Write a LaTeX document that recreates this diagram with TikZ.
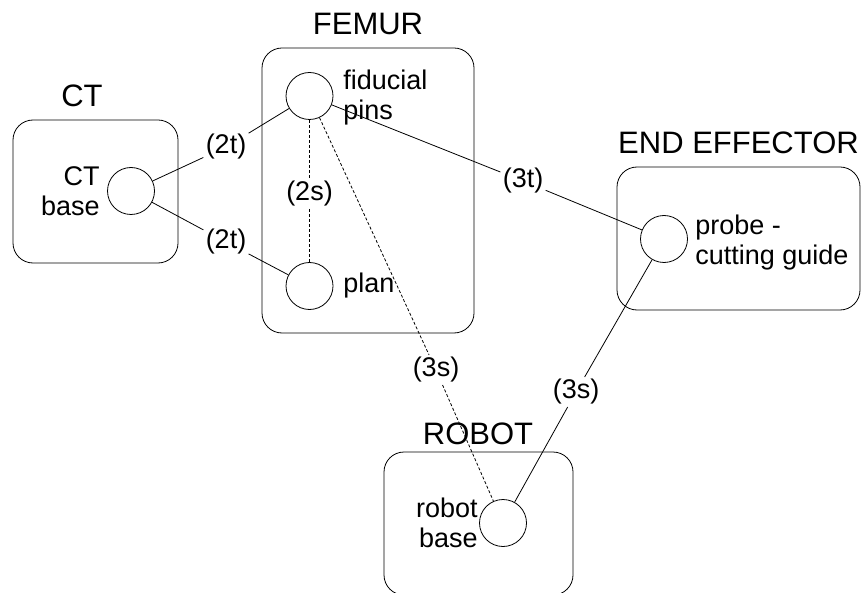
\documentclass[tikz,border=0pt]{standalone}
\usepackage{fontspec}
\setmainfont{Liberation Sans}
\begin{document}
\begin{tikzpicture}[x=1pt,y=-1pt, line width=0.8pt,
  grp/.style={draw, rounded corners=20pt, inner sep=0pt},
  port/.style={draw, circle, minimum size=47pt, inner sep=0pt},
  ttl/.style={font=\fontsize{31}{33}\selectfont, inner sep=0pt},
  txt/.style={font=\fontsize{27}{30}\selectfont, inner sep=0pt},
  lbl/.style={font=\fontsize{27}{30}\selectfont, inner sep=2pt},
  dsh/.style={dash pattern=on 3pt off 2pt}]
\useasboundingbox (0,0) rectangle (866,593);
% group boxes
\node[grp, minimum width=165pt, minimum height=143pt] (ctbox) at (95.5,191.5) {};
\node[grp, minimum width=212pt, minimum height=285pt] (febox) at (368,190.5) {};
\node[grp, minimum width=243pt, minimum height=143pt] (eebox) at (738.5,238.5) {};
\node[grp, minimum width=189pt, minimum height=143pt] (robox) at (478.5,523.5) {};
% titles
\node[ttl] (tct) at (82,96) {CT};
\node[ttl] (tfe) at (368,24) {FEMUR};
\node[ttl] (tee) at (738.5,143) {END EFFECTOR};
\node[ttl] (tro) at (478,434) {ROBOT};
% ports
\node[port] (ctb) at (131,191) {};
\node[port] (fid) at (309.5,96) {};
\node[port] (plan) at (309.5,286) {};
\node[port] (probe) at (664,239) {};
\node[port] (rb) at (503,523) {};
% port texts
\node[txt, align=right, anchor=east] (xctb) at (100,191) {CT\\base};
\node[txt, align=left, anchor=west] (xfid) at (343,98) {fiducial\\pins};
\node[txt, align=left, anchor=west] (xplan) at (343,286) {plan};
\node[txt, align=left, anchor=west] (xprobe) at (695,243) {probe -\\cutting guide};
\node[txt, align=right, anchor=east] (xrb) at (478,523) {robot\\base};
% connector labels
\node[lbl] (l2ta) at (226,147) {(2t)};
\node[lbl] (l2tb) at (226,242) {(2t)};
\node[lbl] (l2s) at (309.5,194) {(2s)};
\node[lbl] (l3t) at (523,181) {(3t)};
\node[lbl] (l3sa) at (436,370) {(3s)};
\node[lbl] (l3sb) at (576,392) {(3s)};
% connectors
\draw (ctb) -- (l2ta) -- (fid);
\draw (ctb) -- (l2tb) -- (plan);
\draw[dsh] (fid) -- (l2s) -- (plan);
\draw (fid) -- (l3t) -- (probe);
\draw[dsh] (fid) -- (l3sa) -- (rb);
\draw (probe) -- (l3sb) -- (rb);
\end{tikzpicture}
\end{document}
